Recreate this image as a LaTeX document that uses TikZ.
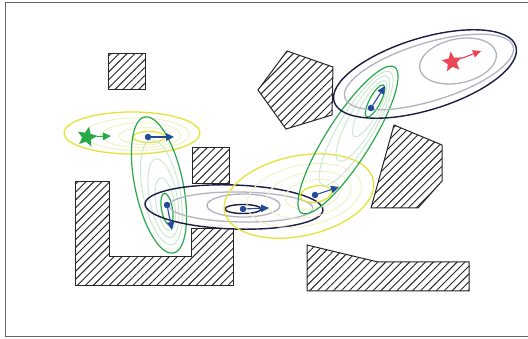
\documentclass[tikz,border=0pt]{standalone}
\usetikzlibrary{patterns.meta,arrows.meta,shapes.geometric}
\definecolor{cyel}{RGB}{230,226,55}
\definecolor{cyellt}{RGB}{242,242,200}
\definecolor{cgreen}{RGB}{40,170,75}
\definecolor{cgreenlt}{RGB}{205,232,208}
\definecolor{cnavy}{RGB}{28,28,68}
\definecolor{cgrey}{RGB}{178,178,195}
\definecolor{cblue}{RGB}{35,75,155}
\definecolor{cred}{RGB}{235,70,85}
\newcommand{\myell}[5]{\draw[#1,shift={(#2)},rotate=#5] (0,0) ellipse [x radius=#3, y radius=#4];}
\begin{document}
\begin{tikzpicture}[x=1pt,y=-1pt,
  obst/.style={draw=black!85, line width=1pt, line join=miter,
    pattern={Lines[angle=45,distance=5.6pt,line width=0.95pt]}, pattern color=black!85},
  frame/.style={draw=black!60, line width=1.6pt},
  yel/.style={draw=cyel, line width=1.3pt},
  yellt/.style={draw=cyellt, line width=1pt},
  grn/.style={draw=cgreen, line width=1.2pt},
  grnlt/.style={draw=cgreenlt, line width=1pt},
  nav/.style={draw=cnavy, line width=1.4pt},
  gry/.style={draw=cgrey, line width=1.3pt},
  dot/.style={circle, fill=cblue, inner sep=0pt, minimum size=6.5pt},
  vel/.style={-{Triangle[length=8pt,width=7.5pt]}, line width=1.1pt},
  starnode/.style={star, star points=5, star point ratio=2.2, inner sep=0pt, minimum size=21pt}]
\useasboundingbox (0,0) rectangle (528,339);
\fill[white] (0,0) rectangle (528,339);
% frame
\draw[frame] (528,2.5) -- (5.5,2.5) -- (5.5,336.5) -- (528,336.5);
% obstacles
\draw[obst] (108,54) rectangle (145,90);
\draw[obst] (192,148) rectangle (229,184);
\draw[obst] (75,182) -- (109,182) -- (109,257) -- (191,257) -- (191,229) -- (233,229) -- (233,286) -- (75,286) -- cycle;
\draw[obst] (287,51) -- (333,67) -- (332,115) -- (286,129) -- (258,90) -- cycle;
\draw[obst] (394,125) -- (442,145) -- (442,181) -- (418,208) -- (371,208) -- cycle;
\draw[obst] (307,245) -- (378,262) -- (469,262) -- (469,291) -- (307,291) -- cycle;
% yellow set 1
\myell{yellt}{137,134.2}{52.4}{16.4}{0}
\myell{yellt}{141.4,135.2}{39.4}{12.5}{0}
\myell{yellt}{145.6,136.2}{26.4}{8.6}{0}
\myell{yel}{132,133}{68}{21}{0}
\myell{yel}{149,137}{16}{5.5}{0}
% green set 1
\myell{grnlt}{161.4,192.2}{18.5}{53.5}{11.4}
\myell{grnlt}{163.4,198.2}{13.8}{40.1}{10.9}
\myell{grnlt}{165.4,204.2}{9.2}{26.7}{10.4}
\myell{grn}{159,185}{24}{69.5}{12}
\myell{grn}{167,209}{5.5}{16}{10}
% navy middle set
\myell{gry}{241,207}{72}{15}{-1}
\myell{gry}{243.5,205.5}{36.5}{11.5}{0}
\myell{nav}{234,207}{89}{22}{-2}
\myell{nav}{243,209}{18}{4.5}{0}
% yellow set 2
\myell{yellt}{304.1,195.4}{58}{30.4}{11.4}
\myell{yellt}{308.4,194.9}{43}{22.4}{10.9}
\myell{yellt}{312.6,194.4}{28}{14.4}{10.4}
\myell{yel}{299,196}{76}{40}{12}
\myell{yel}{316,194}{16}{8}{10}
% green set 2
\myell{grnlt}{356.1,128.3}{66}{17}{58.9}
\myell{grnlt}{362.9,118.6}{48.8}{12.9}{60}
\myell{grnlt}{369.6,108.8}{31.7}{8.8}{61.1}
\myell{grn}{348,140}{86.5}{22}{57.5}
\myell{grn}{375,101}{18}{5.5}{62}
% navy top-right set
\myell{gry}{429,72}{88}{29}{17}
\myell{nav}{425,74}{95}{36}{17}
\myell{gry}{458,61}{39}{22}{12}
% agents and velocities
\node[starnode, fill=cgreen, rotate=-12] (s1) at (87,137) {};
\coordinate (s1t) at (111,136);
\draw[vel, draw=cgreen, fill=cgreen] (s1) -- (s1t);
\node[starnode, fill=cred, rotate=8] (s2) at (452,62) {};
\coordinate (s2t) at (481,51);
\draw[vel, draw=cred, fill=cred] (s2) -- (s2t);
\node[dot] (d1) at (148,137) {};
\coordinate (d1t) at (174,137);
\draw[vel, draw=cblue, fill=cblue] (d1) -- (d1t);
\node[dot] (d2) at (167,205) {};
\coordinate (d2t) at (172,230);
\draw[vel, draw=cblue, fill=cblue] (d2) -- (d2t);
\node[dot] (d3) at (243,209) {};
\coordinate (d3t) at (269,208);
\draw[vel, draw=cblue, fill=cblue] (d3) -- (d3t);
\node[dot] (d4) at (315,195) {};
\coordinate (d4t) at (339,187);
\draw[vel, draw=cblue, fill=cblue] (d4) -- (d4t);
\node[dot] (d5) at (371,108) {};
\coordinate (d5t) at (385,86);
\draw[vel, draw=cblue, fill=cblue] (d5) -- (d5t);
\end{tikzpicture}
\end{document}
